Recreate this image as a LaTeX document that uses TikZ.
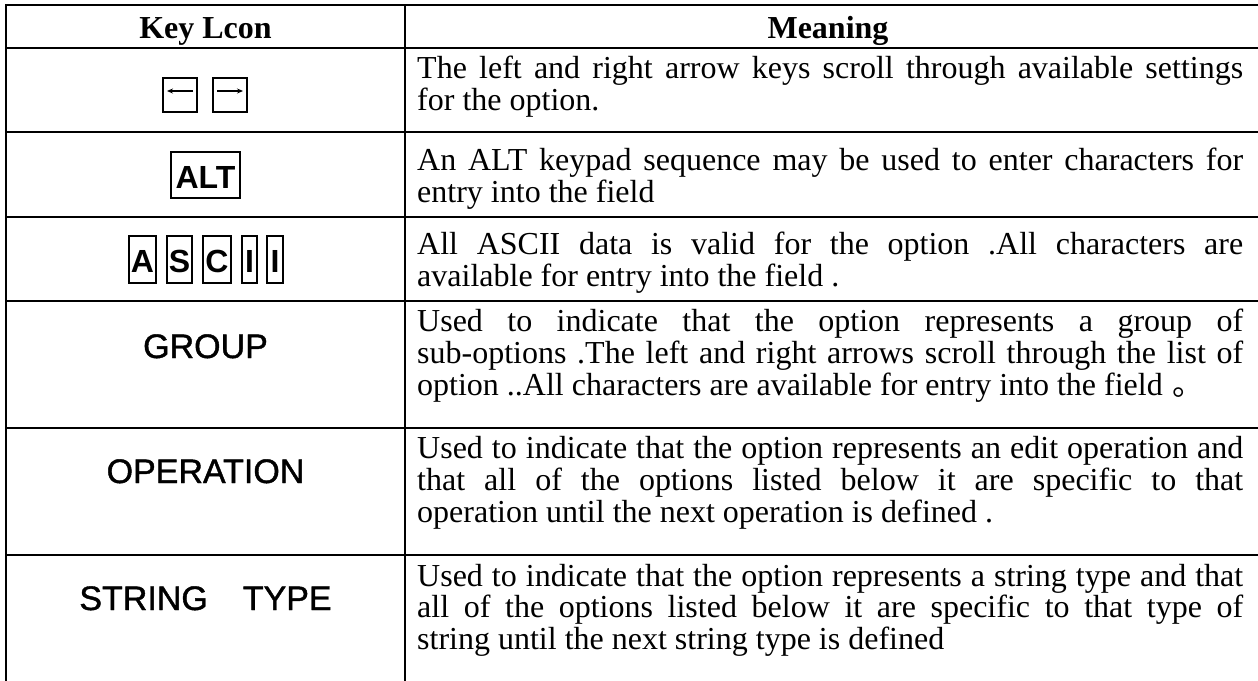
\documentclass[tikz,border=0pt]{standalone}
\usepackage{fontspec}
\setmainfont{Liberation Serif}
\newfontfamily\keysans{Liberation Sans}
\newfontfamily\keysemi[FakeBold=1.2]{Liberation Sans}
\newfontfamily\cjk{Noto Sans CJK SC}
\usetikzlibrary{arrows.meta}
\newcommand{\jl}[1]{\makebox[826pt][s]{#1}}
\tikzset{
  grid/.style={line width=2pt, line cap=rect},
  body/.style={anchor=base west, inner sep=0pt, font=\fontsize{32}{32}\selectfont},
  head/.style={anchor=base, inner sep=0pt, font=\fontsize{32}{34}\selectfont\bfseries},
  keybox/.style={draw, line width=1.5pt, inner sep=0pt},
  keytxt/.style={anchor=base, inner sep=0pt, font=\keysans\fontsize{32}{36}\selectfont\bfseries},
  keyword/.style={anchor=base, inner sep=0pt, font=\keysemi\fontsize{34}{38}\selectfont},
  keyarrow/.style={line width=1.1pt, -{Stealth[length=6pt,width=5pt]}}
}
\begin{document}
\begin{tikzpicture}[x=1pt,y=-1pt]
\useasboundingbox (0,0) rectangle (1258,680);
% table grid
\draw[grid] (6,5) -- (1262,5);
\foreach \yy in {48,132,217,301,428,555,684} {\draw[grid] (6,\yy) -- (1262,\yy);}
\draw[grid] (6,5) -- (6,684);
\draw[grid] (405,5) -- (405,684);
\draw[grid] (1262,5) -- (1262,684);
% header
\node[head] (h1) at (205.5,38) {Key Lcon};
\node[head] (h2) at (828,38) {Meaning};
% row 1 icons
\node[keybox, minimum width=34pt, minimum height=34pt] (kl) at (180,95) {};
\node[keybox, minimum width=34pt, minimum height=34pt] (kr) at (230,95) {};
\coordinate (kla) at (167,91); \coordinate (klb) at (193,91);
\coordinate (kra) at (217,91); \coordinate (krb) at (243,91);
\draw[keyarrow] (klb) -- (kla);
\draw[keyarrow] (kra) -- (krb);
% row 2 icon
\node[keybox, minimum width=69pt, minimum height=46pt] (kalt) at (205.5,175) {};
\node[keytxt] (talt) at (205.5,188) {ALT};
% row 3 icons
\node[keybox, minimum width=27pt, minimum height=47pt] (ka) at (142.5,259.5) {};
\node[keybox, minimum width=25pt, minimum height=47pt] (ks) at (179.5,259.5) {};
\node[keybox, minimum width=28pt, minimum height=47pt] (kc) at (217,259.5) {};
\node[keybox, minimum width=15pt, minimum height=47pt] (ki1) at (249.5,259.5) {};
\node[keybox, minimum width=16pt, minimum height=47pt] (ki2) at (275,259.5) {};
\node[keytxt] (ta) at (ka.center) [yshift=-12.5pt] {A};
\node[keytxt] (ts) at (ks.center) [yshift=-12.5pt] {S};
\node[keytxt] (tc) at (kc.center) [yshift=-12.5pt] {C};
\node[keytxt] (ti1) at (ki1.center) [yshift=-12.5pt] {I};
\node[keytxt] (ti2) at (ki2.center) [yshift=-12.5pt] {I};
% rows 4-6 words
\node[keyword] (tg) at (205.5,358) {GROUP};
\node[keyword] (to) at (205.5,483) {OPERATION};
\node[keyword] (tst) at (205.5,610) {STRING\hspace{35pt}TYPE};
% meanings
\node[body] (m1a) at (417,78) {\jl{The left and right arrow keys scroll through available settings}};
\node[body] (m1b) at (417,110) {for the option.};
\node[body] (m2a) at (417,170) {\jl{An ALT keypad sequence may be used to enter characters for}};
\node[body] (m2b) at (417,202) {entry into the field};
\node[body] (m3a) at (417,254) {\jl{All ASCII data is valid for the option .All characters are}};
\node[body] (m3b) at (417,286) {available for entry into the field .};
\node[body] (m4a) at (417,331) {\jl{Used to indicate that the option represents a group of}};
\node[body] (m4b) at (417,363) {\jl{sub-options .The left and right arrows scroll through the list of}};
\node[body] (m4c) at (417,395) {option ..All characters are available for entry into the field\hspace{10pt}{\cjk 。}};
\node[body] (m5a) at (417,458) {\jl{Used to indicate that the option represents an edit operation and}};
\node[body] (m5b) at (417,490) {\jl{that all of the options listed below it are specific to that}};
\node[body] (m5c) at (417,522) {operation until the next operation is defined .};
\node[body] (m6a) at (417,586) {\jl{Used to indicate that the option represents a string type and that}};
\node[body] (m6b) at (417,617) {\jl{all of the options listed below it are specific to that type of}};
\node[body] (m6c) at (417,649) {string until the next string type is defined};
\end{tikzpicture}
\end{document}
